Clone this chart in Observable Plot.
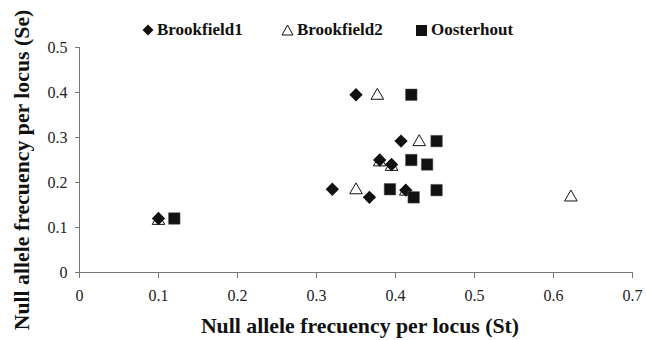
<!DOCTYPE html>
<html><head><meta charset="utf-8">
<script src="https://cdn.jsdelivr.net/npm/d3@7"></script>
<script src="https://cdn.jsdelivr.net/npm/@observablehq/plot@0.6"></script>
<style>
body{margin:0;background:#fff;}
#wrap{position:relative;width:646px;height:340px;font-family:'Liberation Serif', Times, serif;}
#legend{position:absolute;top:20px;left:0;width:646px;height:22px;font-weight:bold;font-size:17px;color:#111;}
#legend span{position:absolute;top:0;white-space:nowrap;}
#legend svg{vertical-align:-1px;margin-right:3px;}
#chart{position:absolute;top:0;left:0;}
#ytitle{position:absolute;left:23px;top:170px;transform:translate(-50%,-50%) rotate(-90deg);white-space:nowrap;font-weight:bold;font-size:21.8px;color:#111;line-height:1;}
#xtitle{position:absolute;left:360px;top:327px;transform:translate(-50%,-50%);white-space:nowrap;font-weight:bold;font-size:21.8px;color:#111;line-height:1;}
</style></head>
<body>
<div id="wrap">
<div id="chart"></div>
<div id="legend">
 <span style="left:142px"><svg width="12" height="12" viewBox="-6 -6 12 12"><path d="M0,-5.5L5.5,0L0,5.5L-5.5,0Z" fill="#111"/></svg>Brookfield1</span>
 <span style="left:281px"><svg width="13" height="12" viewBox="-6.5 -6 13 12"><path d="M0,-5L5.5,5H-5.5Z" fill="#fff" stroke="#111" stroke-width="1"/></svg>Brookfield2</span>
 <span style="left:415px"><svg width="13" height="12" viewBox="-6.5 -6 13 12"><rect x="-5.5" y="-5" width="11" height="11" fill="#111"/></svg>Oosterhout</span>
</div>
<div id="ytitle">Null allele frecuency per locus (Se)</div>
<div id="xtitle">Null allele frecuency per locus (St)</div>
</div>
<script>
const seriesNames = ["Brookfield1", "Brookfield2", "Oosterhout"];
const brookfield1St = [0.10, 0.32, 0.35, 0.367, 0.38, 0.395, 0.407, 0.413];
const brookfield1Se = [0.12, 0.185, 0.395, 0.167, 0.25, 0.24, 0.292, 0.183];
const brookfield2St = [0.10, 0.35, 0.377, 0.38, 0.395, 0.413, 0.43, 0.622];
const brookfield2Se = [0.115, 0.183, 0.393, 0.245, 0.235, 0.18, 0.29, 0.167];
const oosterhoutSt = [0.12, 0.393, 0.42, 0.42, 0.423, 0.44, 0.452, 0.452];
const oosterhoutSe = [0.12, 0.185, 0.395, 0.25, 0.167, 0.24, 0.292, 0.183];
const xTicks = [0, 0.1, 0.2, 0.3, 0.4, 0.5, 0.6, 0.7];
const yTicks = [0, 0.1, 0.2, 0.3, 0.4, 0.5];

const toRows = (xs, ys, name) => xs.map((x, i) => ({st: x, se: ys[i], series: name}));
const b1 = toRows(brookfield1St, brookfield1Se, seriesNames[0]);
const b2 = toRows(brookfield2St, brookfield2Se, seriesNames[1]);
const oo = toRows(oosterhoutSt, oosterhoutSe, seriesNames[2]);

const fmt = d => d === 0 ? "0" : d.toFixed(1);
const axisColor = "#777";
const serif = "'Liberation Serif', Times, serif";

const chart = Plot.plot({
  width: 646,
  height: 340,
  marginTop: 47,
  marginBottom: 68,
  marginLeft: 79,
  marginRight: 14,
  style: {fontFamily: serif, fontSize: "16px", color: "#222", background: "transparent"},
  x: {domain: [0, 0.7], label: null},
  y: {domain: [0, 0.5], label: null},
  marks: [
    Plot.ruleY([0], {stroke: axisColor}),
    Plot.ruleX([0], {stroke: axisColor}),
    Plot.axisX({ticks: xTicks, tickFormat: fmt, tickSize: 6, tickPadding: 11, stroke: axisColor, fontSize: 16, fill: "#222", fontFamily: serif}),
    Plot.axisY({ticks: yTicks, tickFormat: fmt, tickSize: 4, tickPadding: 8, stroke: axisColor, fontSize: 16, fill: "#222", fontFamily: serif}),
    Plot.dot(b2, {x: "st", y: "se", symbol: "triangle2", r: 6, fill: "#fff", stroke: "#111", strokeWidth: 1}),
    Plot.dot(b1, {x: "st", y: "se", symbol: "diamond2", r: 6, fill: "#111", stroke: "none"}),
    Plot.dot(oo, {x: "st", y: "se", symbol: "square", r: 6.5, fill: "#111", stroke: "#555", strokeWidth: 0.5})
  ]
});
document.getElementById("chart").appendChild(chart);
</script>
</body></html>
